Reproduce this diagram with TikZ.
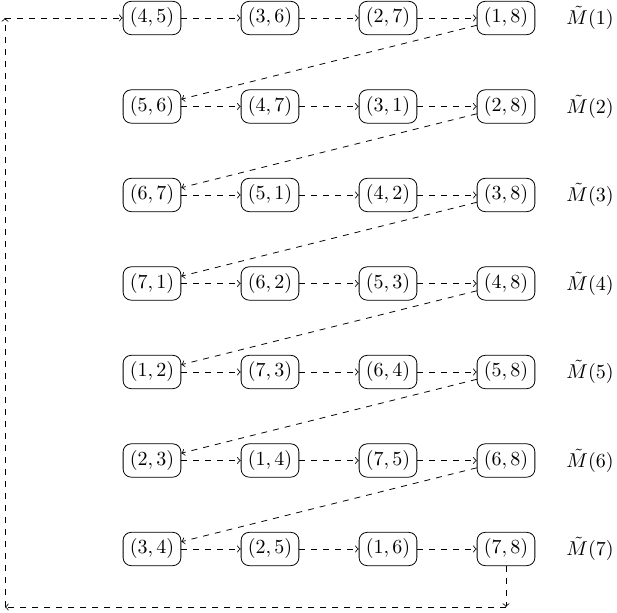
\documentclass[tikz,border=0pt]{standalone}
\begin{document}
\begin{tikzpicture}[x=0.5pt,y=-0.5pt,
  pair/.style={draw,rounded corners=4pt,inner sep=3.33pt},
  link/.style={dashed,->},
  lab/.style={inner sep=0pt}]
\useasboundingbox (0,0) rectangle (617,613);
% row 1
\node[pair] (a11) at (152,18) {$(4,5)$};
\node[pair] (a12) at (270,18) {$(3,6)$};
\node[pair] (a13) at (388,18) {$(2,7)$};
\node[pair] (a14) at (506,18) {$(1,8)$};
\node[lab] (m1) at (590,18) {$\tilde{M}(1)$};
% row 2
\node[pair] (a21) at (152,106.5) {$(5,6)$};
\node[pair] (a22) at (270,106.5) {$(4,7)$};
\node[pair] (a23) at (388,106.5) {$(3,1)$};
\node[pair] (a24) at (506,106.5) {$(2,8)$};
\node[lab] (m2) at (590,106.5) {$\tilde{M}(2)$};
% row 3
\node[pair] (a31) at (152,195) {$(6,7)$};
\node[pair] (a32) at (270,195) {$(5,1)$};
\node[pair] (a33) at (388,195) {$(4,2)$};
\node[pair] (a34) at (506,195) {$(3,8)$};
\node[lab] (m3) at (590,195) {$\tilde{M}(3)$};
% row 4
\node[pair] (a41) at (152,283.5) {$(7,1)$};
\node[pair] (a42) at (270,283.5) {$(6,2)$};
\node[pair] (a43) at (388,283.5) {$(5,3)$};
\node[pair] (a44) at (506,283.5) {$(4,8)$};
\node[lab] (m4) at (590,283.5) {$\tilde{M}(4)$};
% row 5
\node[pair] (a51) at (152,372) {$(1,2)$};
\node[pair] (a52) at (270,372) {$(7,3)$};
\node[pair] (a53) at (388,372) {$(6,4)$};
\node[pair] (a54) at (506,372) {$(5,8)$};
\node[lab] (m5) at (590,372) {$\tilde{M}(5)$};
% row 6
\node[pair] (a61) at (152,460.5) {$(2,3)$};
\node[pair] (a62) at (270,460.5) {$(1,4)$};
\node[pair] (a63) at (388,460.5) {$(7,5)$};
\node[pair] (a64) at (506,460.5) {$(6,8)$};
\node[lab] (m6) at (590,460.5) {$\tilde{M}(6)$};
% row 7
\node[pair] (a71) at (152,549) {$(3,4)$};
\node[pair] (a72) at (270,549) {$(2,5)$};
\node[pair] (a73) at (388,549) {$(1,6)$};
\node[pair] (a74) at (506,549) {$(7,8)$};
\node[lab] (m7) at (590,549) {$\tilde{M}(7)$};
% horizontal links
\foreach \r in {1,...,7}{
  \draw[link] (a\r1) -- (a\r2);
  \draw[link] (a\r2) -- (a\r3);
  \draw[link] (a\r3) -- (a\r4);
}
% diagonal links
\foreach \r/\s in {1/2,2/3,3/4,4/5,5/6,6/7}{
  \draw[link] (a\r4) -- (a\s1);
}
% return loop
\coordinate (c1) at (506,607);
\coordinate (c2) at (5,607);
\coordinate (c3) at (5,18);
\draw[link] (a74) -- (c1);
\draw[link] (c1) -- (c2);
\draw[link] (c2) -- (c3);
\draw[link] (c3) -- (a11);
\end{tikzpicture}
\end{document}
